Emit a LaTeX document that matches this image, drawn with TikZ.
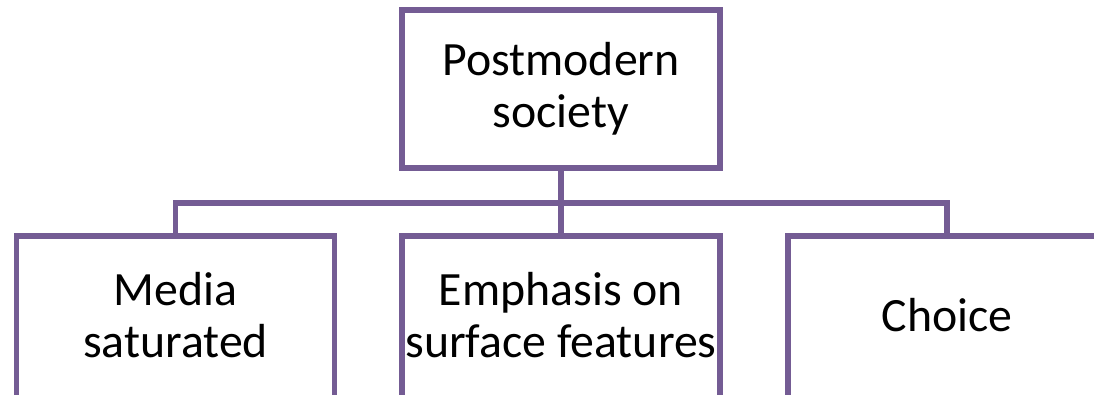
\documentclass[tikz,border=0pt]{standalone}
\usepackage{fontspec}
\setmainfont{Carlito}
\usepackage{tikz}
\usetikzlibrary{positioning}
\definecolor{boxpurple}{RGB}{116,92,148}

\tikzset{
    box/.style={draw=boxpurple, line width=3.6pt, minimum width=7.95cm, minimum height=3.95cm,
                inner sep=0pt, align=center, font=\fontsize{34}{37}\selectfont},
    lowbox/.style={box, minimum height=4.15cm, text depth=0.2cm},
    link/.style={draw=boxpurple, line width=3.6pt}
}

\begin{document}
\begin{tikzpicture}
                    \useasboundingbox (0,0) rectangle (27.35,-9.875);
                    \node[box] (society) at (14.025,-2.225) {Postmodern\\society};
                    \node[lowbox] (media) at (4.39,-7.975) {Media\\saturated};
                    \node[lowbox] (surface) at (14.025,-7.975) {Emphasis on\\surface features};
                    \node[lowbox] (choice) at (23.675,-7.975) {Choice};
                    \coordinate (bus) at (14.025,-5.075);

                    \draw[link] (society) -- (surface);
                    \draw[link] (bus) -| (media);
                    \draw[link] (bus) -| (choice);
                \end{tikzpicture}
\end{document}
